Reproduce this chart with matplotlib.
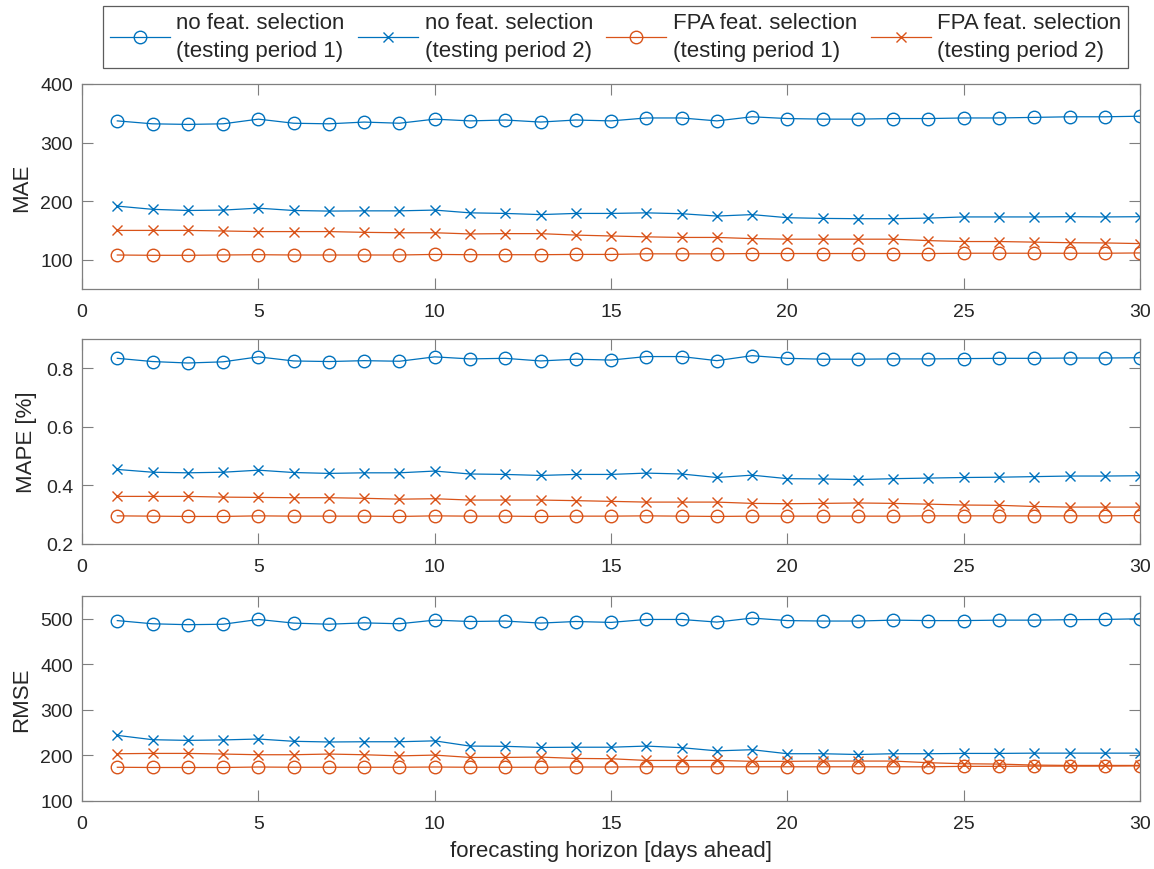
import matplotlib.pyplot as plt
import numpy as np

plt.rcParams['font.family'] = ['Liberation Sans', 'DejaVu Sans']

# forecasting horizon
days = np.arange(1, 31)

# MAE
mae_no_p1 = [337, 332, 331, 332, 340, 333, 332, 335, 333, 340,
             337, 338.5, 335, 338.5, 337, 342, 342, 337, 344, 341,
             340, 340, 341, 341, 342, 342, 343, 344, 344, 345]
mae_no_p2 = [191.5, 186, 184, 184.7, 188, 184, 183, 183.4, 183.4, 184.7,
             180, 179, 177, 179, 179, 180, 178.5, 174.5, 177, 171.7,
             170.5, 170, 170, 171, 173, 173, 173, 173.4, 173, 173.4]
mae_fpa_p1 = [108, 107.5, 107.5, 108, 108.5, 108, 108, 108, 108, 109,
              108.5, 108.5, 108.5, 109, 109, 110, 110, 110, 110.5, 110.5,
              110.5, 110.5, 110.5, 110.5, 111, 111, 111, 111, 111, 111.5]
mae_fpa_p2 = [150, 150, 150, 149, 148, 148, 148, 146.7, 146, 146,
              144, 144.5, 144.5, 142, 140.5, 139, 138, 138, 136, 135,
              135, 135, 135, 132.6, 131, 131, 130, 129, 128.6, 127.5]

# MAPE [%]
mape_no_p1 = [0.834, 0.823, 0.818, 0.822, 0.839, 0.825, 0.823, 0.826, 0.824, 0.839,
              0.832, 0.834, 0.825, 0.831, 0.828, 0.840, 0.840, 0.826, 0.843, 0.834,
              0.831, 0.831, 0.832, 0.832, 0.833, 0.834, 0.834, 0.835, 0.835, 0.836]
mape_no_p2 = [0.4545, 0.445, 0.443, 0.445, 0.452, 0.444, 0.441, 0.443, 0.443, 0.449,
              0.439, 0.4375, 0.434, 0.4375, 0.4375, 0.442, 0.439, 0.427, 0.435, 0.423,
              0.422, 0.420, 0.423, 0.425, 0.427, 0.428, 0.430, 0.432, 0.432, 0.433]
mape_fpa_p1 = [0.296, 0.295, 0.294, 0.294, 0.296, 0.295, 0.295, 0.295, 0.294, 0.296,
               0.295, 0.295, 0.294, 0.295, 0.295, 0.296, 0.295, 0.294, 0.295, 0.295,
               0.295, 0.295, 0.295, 0.296, 0.296, 0.296, 0.296, 0.296, 0.296, 0.297]
mape_fpa_p2 = [0.3625, 0.3625, 0.3625, 0.360, 0.359, 0.358, 0.358, 0.356, 0.353, 0.3545,
               0.350, 0.350, 0.350, 0.348, 0.3455, 0.343, 0.343, 0.343, 0.3386, 0.3375,
               0.3386, 0.340, 0.3386, 0.336, 0.333, 0.332, 0.328, 0.326, 0.326, 0.326]

# RMSE
rmse_no_p1 = [496, 489, 487, 488, 498.5, 490.5, 488, 491, 489, 497,
              494, 495, 490.5, 494, 492, 498.5, 498.5, 492.7, 501.5, 496,
              495, 495, 497, 496, 496, 497, 497, 498, 498.5, 500]
rmse_no_p2 = [244, 234.5, 233, 234, 236, 231, 229.5, 230, 230, 232,
              220.5, 220, 217.5, 218, 218, 220.5, 217, 210, 212.5, 203.7,
              203.7, 202, 203.7, 203.7, 204.4, 204.4, 205, 205, 205, 205]
rmse_fpa_p1 = [174, 173.5, 173.5, 173.5, 174.5, 174, 174, 174, 174, 174.5,
               174, 174, 174, 174.5, 174.5, 175, 175, 175, 175, 175,
               175, 175, 175, 175, 176, 176, 176.5, 176.5, 176.5, 177]
rmse_fpa_p2 = [203.7, 204.4, 204.4, 203, 201.5, 201.5, 203, 201.5, 199, 200.7,
               195.6, 195.6, 196.3, 193.4, 192.7, 189, 189, 189, 187, 187,
               187.6, 187.6, 187.6, 184, 181.7, 181, 178.8, 178, 178, 178]

labels = ['no feat. selection\n(testing period 1)',
          'no feat. selection\n(testing period 2)',
          'FPA feat. selection\n(testing period 1)',
          'FPA feat. selection\n(testing period 2)']

blue = '#0072BD'
orange = '#D95319'
axis_col = '#7f7f7f'
text_col = '#262626'

panels = [
    ('MAE', [mae_no_p1, mae_no_p2, mae_fpa_p1, mae_fpa_p2], (50, 400), [100, 200, 300, 400], None),
    ('MAPE [%]', [mape_no_p1, mape_no_p2, mape_fpa_p1, mape_fpa_p2], (0.2, 0.9), [0.2, 0.4, 0.6, 0.8], '%.1f'),
    ('RMSE', [rmse_no_p1, rmse_no_p2, rmse_fpa_p1, rmse_fpa_p2], (100, 550), [100, 200, 300, 400, 500], None),
]

styles = [(blue, 'o'), (blue, 'x'), (orange, 'o'), (orange, 'x')]

fig = plt.figure(figsize=(11.54, 8.7), dpi=100)
tops = [0.9023, 0.6092, 0.3138]
h = 0.2356

handles = []
for k, (name, series, ylim, yt, fmt) in enumerate(panels):
    ax = fig.add_axes([0.0711, tops[k] - h, 0.9168, h])
    for j, vals in enumerate(series):
        c, m = styles[j]
        ms = 9 if m == 'o' else 6.5
        ln, = ax.plot(days, vals, color=c, marker=m, ms=ms, mfc='none',
                      mew=1.0, lw=0.9, label=labels[j])
        if k == 0:
            handles.append(ln)
    ax.set_xlim(0, 30)
    ax.set_ylim(*ylim)
    ax.set_xticks(np.arange(0, 31, 5))
    ax.set_yticks(yt)
    if fmt:
        ax.set_yticklabels([fmt % v for v in yt])
    ax.set_ylabel(name, fontsize=16, color=text_col, labelpad=6)
    ax.tick_params(direction='in', length=8, width=0.8, top=True, right=True,
                   labelsize=14, colors=text_col)
    ax.tick_params(axis='x', pad=10)
    ax.tick_params(axis='y', pad=6.5)
    ax.tick_params(color=axis_col)
    for s in ax.spines.values():
        s.set_color(axis_col)
        s.set_linewidth(0.9)
    if k == 2:
        ax.set_xlabel('forecasting horizon [days ahead]', fontsize=16, color=text_col, labelpad=6)

leg = fig.legend(handles=handles, loc='upper center', bbox_to_anchor=(0.5335, 0.992),
                 ncol=4, fontsize=16, frameon=True, fancybox=False,
                 handlelength=2.7, handletextpad=0.3, columnspacing=0.6,
                 borderpad=0.28, labelspacing=0.2, borderaxespad=0)
leg.get_frame().set_edgecolor('#333333')
leg.get_frame().set_linewidth(0.9)
for t in leg.get_texts():
    t.set_color(text_col)
    t.set_linespacing(1.45)

fig.savefig('out.png', dpi=100)
